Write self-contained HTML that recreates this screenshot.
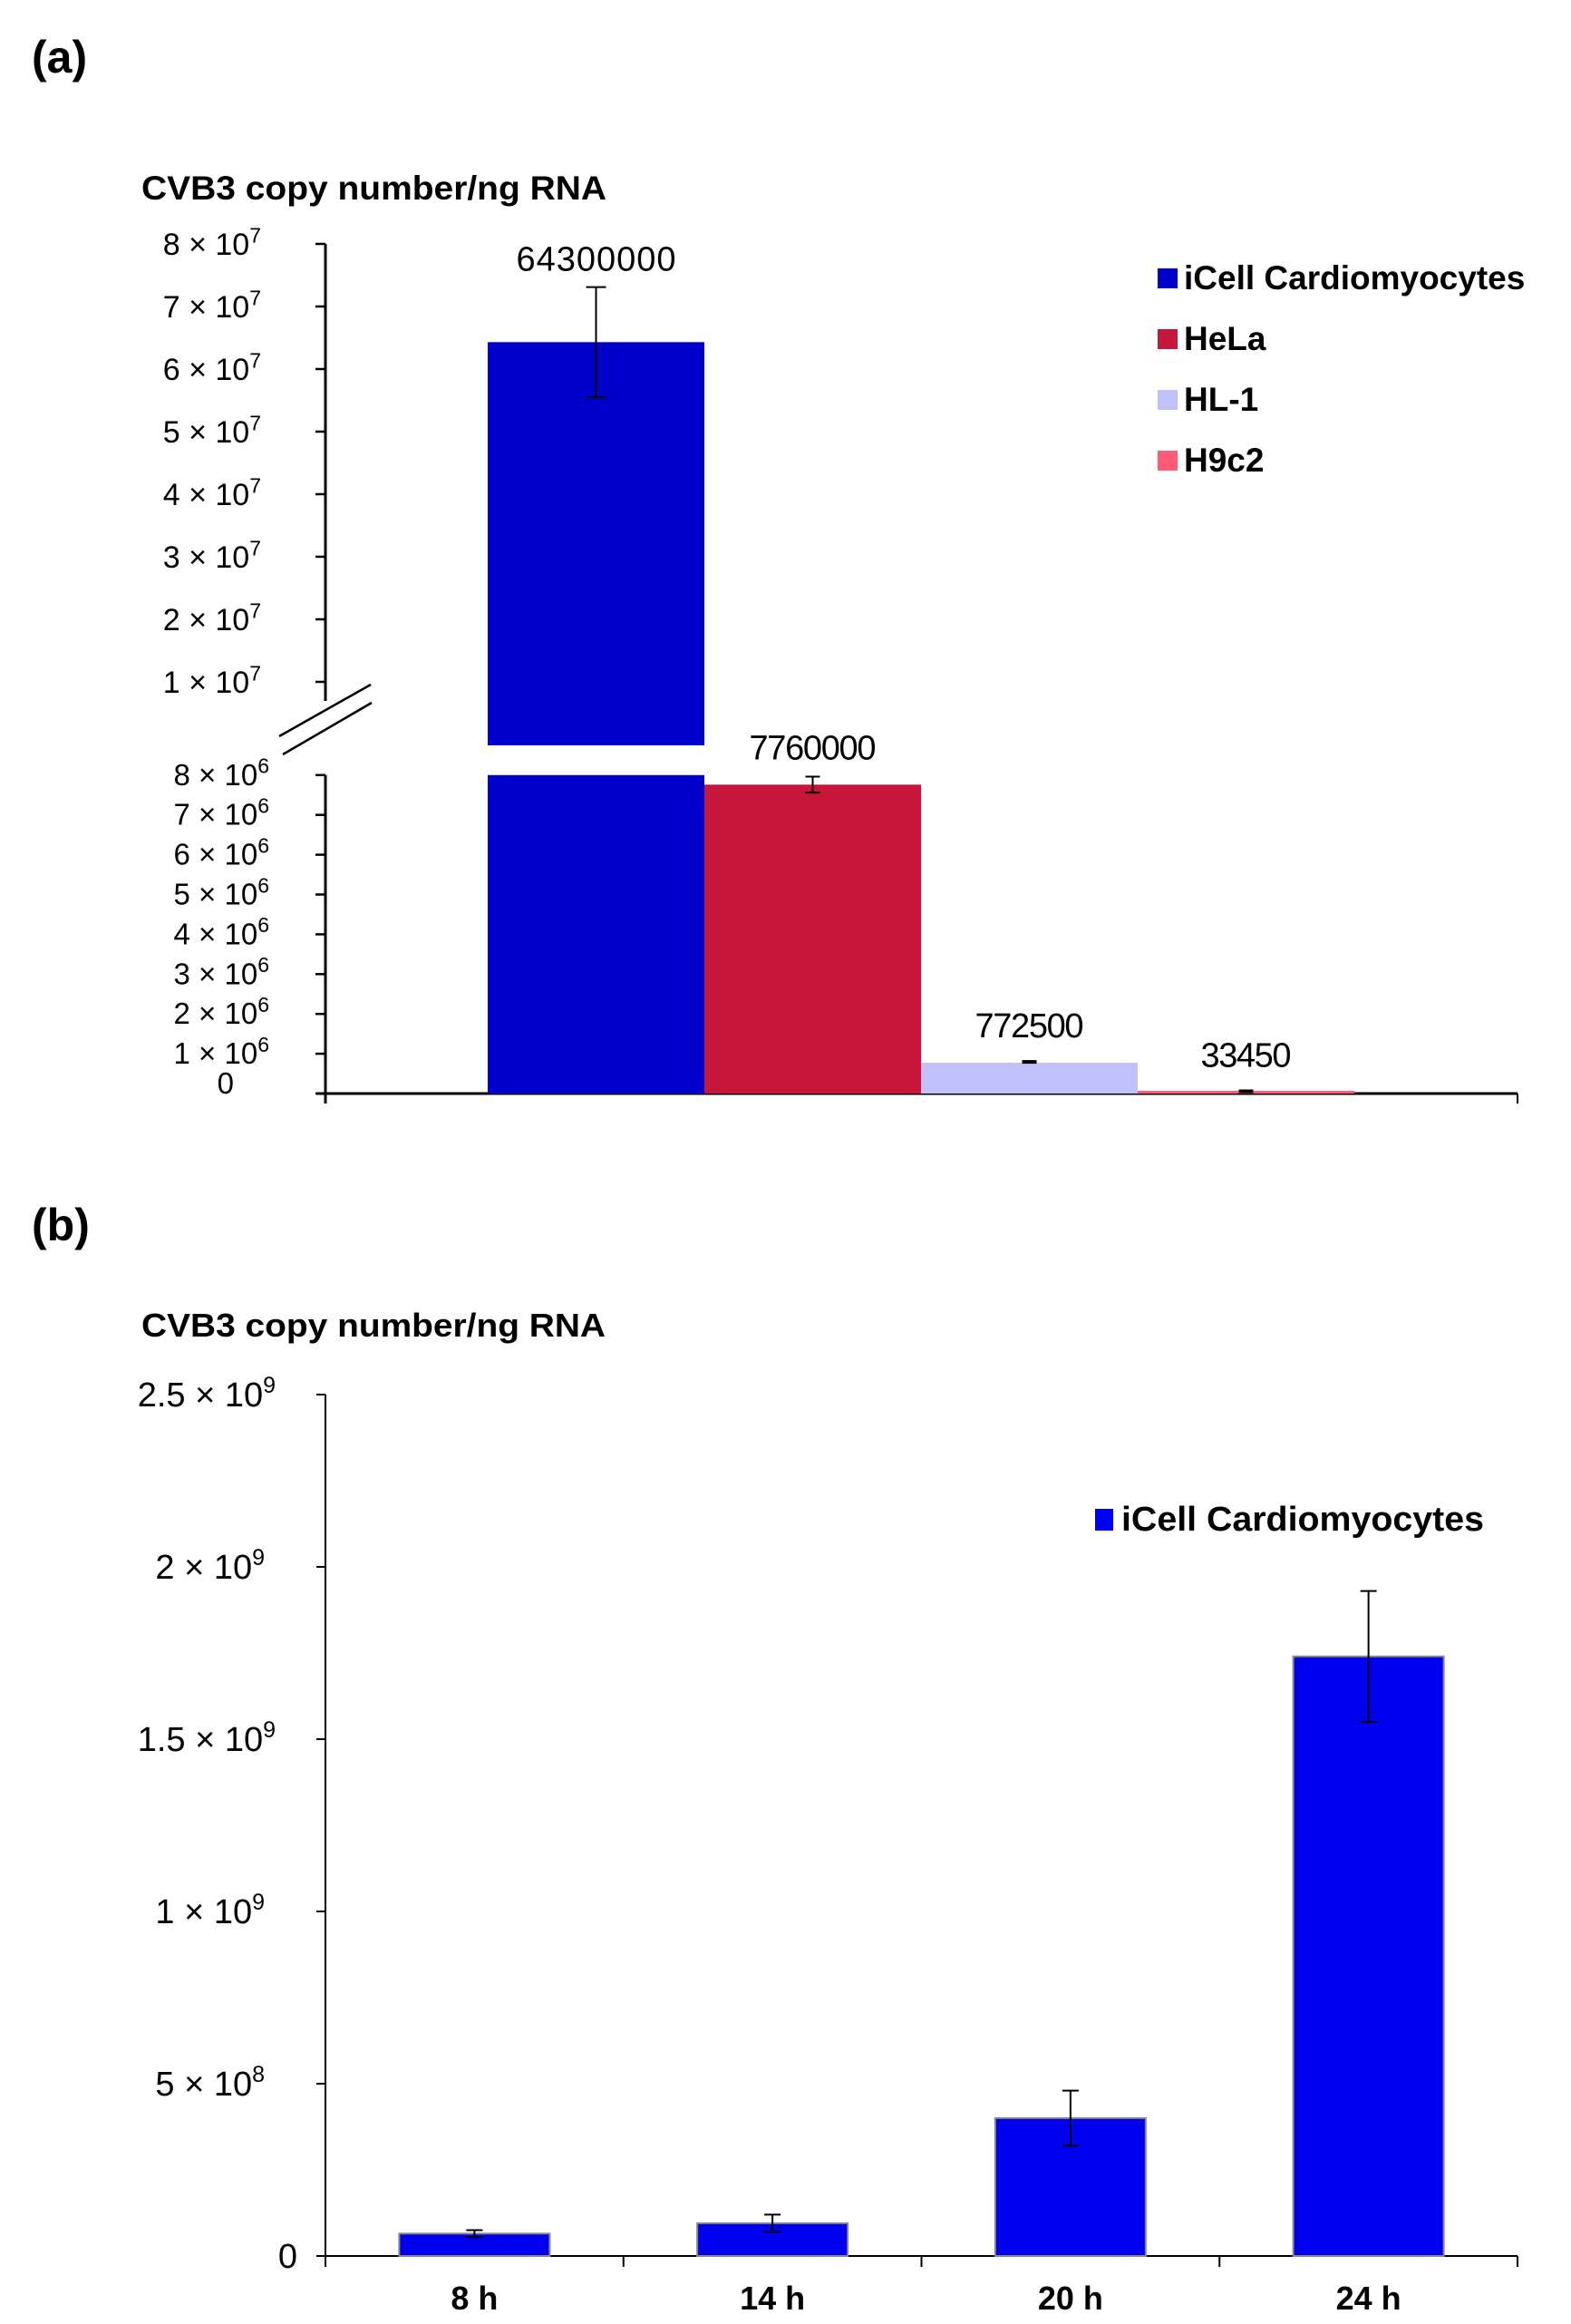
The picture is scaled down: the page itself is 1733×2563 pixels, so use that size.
<!DOCTYPE html>
<html><head><meta charset="utf-8"><style>html,body{margin:0;padding:0;background:#fff}svg{display:block}</style></head>
<body>
<svg id="fig" width="1733" height="2563" xmlns="http://www.w3.org/2000/svg" font-family="Liberation Sans, Arial, sans-serif">
<text x="35" y="80" font-size="50" font-weight="bold">(a)</text>
<text x="156" y="220" font-size="37" font-weight="bold" textLength="513" lengthAdjust="spacingAndGlyphs">CVB3 copy number/ng RNA</text>
<text x="35" y="1368" font-size="50" font-weight="bold">(b)</text>
<text x="156" y="1474" font-size="36" font-weight="bold" textLength="512" lengthAdjust="spacingAndGlyphs">CVB3 copy number/ng RNA</text>
<g id="ga"></g><g id="gb"></g>
</svg>
<script>
// Panel (a) data
const aSeries = ["iCell Cardiomyocytes", "HeLa", "HL-1", "H9c2"];
const aValues = [64300000, 7760000, 772500, 33450];
const aErrors = [8800000, 200000, 40000, 8000];
const aLabels = ["64300000", "7760000", "772500", "33450"];
const aUpperTicks = [1e7, 2e7, 3e7, 4e7, 5e7, 6e7, 7e7, 8e7];
const aLowerTicks = [0, 1e6, 2e6, 3e6, 4e6, 5e6, 6e6, 7e6, 8e6];
// Panel (b) data
const bCategories = ["8 h", "14 h", "20 h", "24 h"];
const bValues = [65000000, 95000000, 400000000, 1740000000];
const bErrors = [10000000, 25000000, 80000000, 190000000];
const bTicks = [0, 5e8, 1e9, 1.5e9, 2e9, 2.5e9];

const NS = "http://www.w3.org/2000/svg";
function mk(parent, tag, attrs, txt) {
  const e = document.createElementNS(NS, tag);
  for (const k in attrs) e.setAttribute(k, attrs[k]);
  if (txt !== undefined) e.textContent = txt;
  parent.appendChild(e);
  return e;
}
function sci(parent, xRight, y, v, fs, sup) {
  const t = mk(parent, "text", {x: xRight, y: y, "font-size": fs, "text-anchor": "end"});
  if (v === 0) { t.textContent = "0"; return t; }
  const exp = Math.floor(Math.log10(v) + 1e-9);
  const m = +(v / Math.pow(10, exp)).toFixed(1);
  mk(t, "tspan", {}, m + " \u00d7 10");
  mk(t, "tspan", {"font-size": sup, dy: -fs * 0.4}, String(exp));
  return t;
}
const colors = ["#0000cc", "#c8163a", "#c0c0fa", "#ff5a78"];

// ---------- Panel A ----------
const ga = document.getElementById("ga");
const axX = 359, xEnd = 1674;
const upTop = 269, upPer = 69;
const yU = v => upTop + (8e7 - v) / 1e7 * upPer;
const lowBase = 1206, lowPer = 43.9;
const yL = v => lowBase - v / 1e6 * lowPer;
const upBottom = 822, lowTop = yL(8e6);
const barW = 239, bar0 = 538;
const xBar = i => bar0 + i * barW;

mk(ga, "line", {x1: axX, y1: upTop, x2: axX, y2: 773, stroke: "#000", "stroke-width": 3});
mk(ga, "line", {x1: axX, y1: lowTop, x2: axX, y2: 1217, stroke: "#000", "stroke-width": 3});
mk(ga, "line", {x1: axX - 10, y1: lowBase, x2: xEnd, y2: lowBase, stroke: "#000", "stroke-width": 3});
mk(ga, "line", {x1: xEnd, y1: lowBase, x2: xEnd, y2: 1217, stroke: "#000", "stroke-width": 2});
mk(ga, "line", {x1: 308, y1: 812, x2: 409, y2: 755, stroke: "#000", "stroke-width": 2.5});
mk(ga, "line", {x1: 312, y1: 832, x2: 410, y2: 775, stroke: "#000", "stroke-width": 2.5});
aUpperTicks.forEach(v => {
  mk(ga, "line", {x1: axX - 11, y1: yU(v), x2: axX, y2: yU(v), stroke: "#000", "stroke-width": 2.5});
  const t = sci(ga, 288, yU(v) + 12, v, 34, 23);
  
  
});
aLowerTicks.forEach(v => {
  mk(ga, "line", {x1: axX - 11, y1: yL(v), x2: axX, y2: yL(v), stroke: "#000", "stroke-width": 2.5});
  const t = sci(ga, v === 0 ? 258 : 297, yL(v) + (v === 0 ? 0 : 11), v, 33, 23);
  
  
});
aValues.forEach((v, i) => {
  const x = xBar(i), cx = x + barW / 2;
  if (v > 8e6) {
    const r1 = mk(ga, "rect", {x: x, y: yU(v), width: barW, height: upBottom - yU(v), fill: colors[i]});
    
    
    const r2 = mk(ga, "rect", {x: x, y: lowTop, width: barW, height: lowBase - lowTop, fill: colors[i]});
    
    
    const e = aErrors[i];
    mk(ga, "path", {d: `M${cx},${yU(v + e)}V${yU(v - e)}M${cx - 11},${yU(v + e)}h22M${cx - 11},${yU(v - e)}h22`, stroke: "#000", "stroke-width": 2, fill: "none"});
    const lt = mk(ga, "text", {x: cx, y: yU(v + e) - 18, "font-size": 38, "text-anchor": "middle", textLength: 176}, aLabels[i]);
    
    
  } else {
    const h = Math.max(lowBase - yL(v), 3);
    const r = mk(ga, "rect", {x: x, y: lowBase - h, width: barW, height: h, fill: colors[i]});
    
    
    const e = aErrors[i];
    const top = Math.min(yL(v + e), yL(v) - 3), bot = yL(v - e);
    if (bot - top > 6) mk(ga, "path", {d: `M${cx},${top}V${bot}M${cx - 8},${top}h16M${cx - 8},${bot}h16`, stroke: "#000", "stroke-width": 2, fill: "none"});
    else mk(ga, "rect", {x: cx - 8, y: top, width: 16, height: 4, fill: "#000"});
    const lt = mk(ga, "text", {x: cx, y: yL(v) - 28, "font-size": 38, "text-anchor": "middle", textLength: aLabels[i].length * 20}, aLabels[i]);
    
    
  }
});
aSeries.forEach((s, i) => {
  const y = 307 + i * 67;
  const sq = mk(ga, "rect", {x: 1277, y: y - 11, width: 22, height: 22, fill: colors[i]});
  
  
  const t = mk(ga, "text", {x: 1306, y: y + 12, "font-size": 37, "font-weight": "bold"}, s);
  
  
});

// ---------- Panel B ----------
const gb = document.getElementById("gb");
const bBase = 2488, bTop = 1538;
const yB = v => bBase - v / 2.5e9 * (bBase - bTop);
const catW = (xEnd - axX) / bCategories.length;
const bw = 166;
mk(gb, "line", {x1: axX, y1: bTop, x2: axX, y2: 2500, stroke: "#000", "stroke-width": 2});
mk(gb, "line", {x1: axX - 10, y1: bBase, x2: xEnd, y2: bBase, stroke: "#000", "stroke-width": 2});
for (let i = 0; i <= bCategories.length; i++) {
  mk(gb, "line", {x1: axX + i * catW, y1: bBase, x2: axX + i * catW, y2: 2500, stroke: "#000", "stroke-width": 2});
}
bTicks.forEach(v => {
  mk(gb, "line", {x1: axX - 10, y1: yB(v), x2: axX, y2: yB(v), stroke: "#000", "stroke-width": 2});
  const t = sci(gb, v === 0 ? 328 : (v === 1e9 || v === 2e9 || v === 5e8 ? 292 : 304), yB(v) + 13, v, 38, 25);
  
  
});
bValues.forEach((v, i) => {
  const cx = axX + (i + 0.5) * catW;
  const r = mk(gb, "rect", {x: cx - bw / 2, y: yB(v), width: bw, height: bBase - yB(v), fill: "#0000f0", stroke: "#888", "stroke-width": 2});
  
  
  const e = bErrors[i];
  mk(gb, "path", {d: `M${cx},${yB(v + e)}V${yB(v - e)}M${cx - 9},${yB(v + e)}h18M${cx - 9},${yB(v - e)}h18`, stroke: "#000", "stroke-width": 2, fill: "none"});
  const t = mk(gb, "text", {x: cx, y: 2547, "font-size": 36, "font-weight": "bold", "text-anchor": "middle"}, bCategories[i]);
  
  
});
const lsq = mk(gb, "rect", {x: 1208, y: 1664, width: 20, height: 24, fill: "#0000f0"});


const lt = mk(gb, "text", {x: 1237, y: 1688, "font-size": 38, "font-weight": "bold", textLength: 400, lengthAdjust: "spacingAndGlyphs"}, "iCell Cardiomyocytes");


</script>
</body></html>
